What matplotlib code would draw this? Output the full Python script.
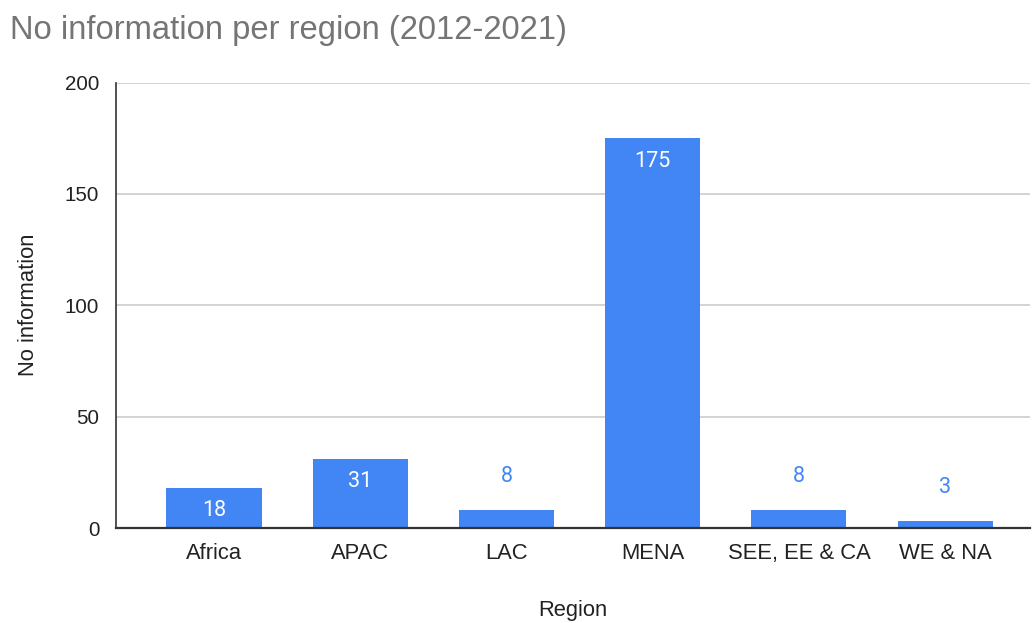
import matplotlib
matplotlib.use("Agg")
import matplotlib.pyplot as plt

regions = ["Africa", "APAC", "LAC", "MENA", "SEE, EE & CA", "WE & NA"]
values = [18, 31, 8, 175, 8, 3]
yticks = [0, 50, 100, 150, 200]

plt.rcParams['font.family'] = ['Liberation Sans', 'DejaVu Sans']

fig = plt.figure(figsize=(10.33, 6.23), dpi=100)
ax = fig.add_axes([116/1033, 1 - 528/623, (1030 - 116)/1033, (528 - 82.5)/623])

blue = "#4285F4"
x = list(range(len(regions)))
bars = ax.bar(x, values, width=0.65, color=blue, zorder=3)

ax.set_ylim(0, 200)
ax.set_xlim(-0.67, 5.58)
ax.set_yticks(yticks)
ax.set_xticks(x)
ax.set_xticklabels(regions, fontsize=15.8, color="#222222")
ax.set_yticklabels([str(t) for t in yticks], fontsize=14.8, color="#222222")
ax.tick_params(axis='both', length=0)
ax.tick_params(axis='y', pad=12)
ax.tick_params(axis='x', pad=11)

ax.grid(axis='y', color="#cccccc", linewidth=1.2, zorder=0)
for s in ['top', 'right']:
    ax.spines[s].set_visible(False)
ax.spines['left'].set_color("#333333")
ax.spines['left'].set_linewidth(1.2)
ax.spines['bottom'].set_color("#333333")
ax.spines['bottom'].set_linewidth(1.6)
ax.spines['bottom'].set_zorder(4)

for xi, v in zip(x, values):
    if v >= 15:
        ax.annotate(str(v), (xi, v), xytext=(0, -23), textcoords='offset pixels',
                    ha='center', va='center', color='white', fontsize=15.5,
                    family=['Roboto', 'DejaVu Sans'], zorder=5)
    else:
        ax.annotate(str(v), (xi, v), xytext=(0, 34), textcoords='offset pixels',
                    ha='center', va='center', color=blue, fontsize=15.5,
                    family=['Roboto', 'DejaVu Sans'], zorder=5)

ax.set_xlabel("Region", fontsize=15.8, color="#222222", labelpad=26)
ax.set_ylabel("No information", fontsize=15.8, color="#222222", labelpad=19)

fig.text(10/1033, 1 - 30/623, "No information per region (2012-2021)", fontsize=23.6,
         color="#757575", ha='left', va='center')

fig.savefig("out.png", dpi=100)
